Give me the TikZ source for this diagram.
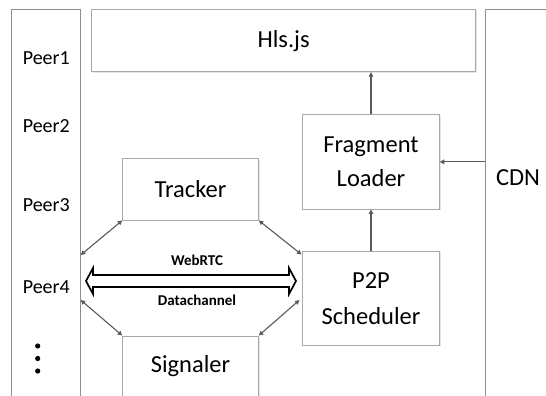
\documentclass[tikz,border=0pt]{standalone}
\usepackage{fontspec}
\setmainfont{Carlito}
\usetikzlibrary{arrows.meta,calc,shadows}
\definecolor{boxgray}{HTML}{A8A8A8}
\definecolor{sidegray}{HTML}{8E8E8E}
\definecolor{arrgray}{HTML}{5A5A5A}
\begin{document}
\begin{tikzpicture}[x=1pt,y=-1pt,
  box/.style={draw=boxgray, line width=0.9pt, fill=white, rectangle, inner sep=0pt,
    general shadow={shadow xshift=1.2pt, shadow yshift=-1.2pt, fill=black!10}},
  side/.style={draw=sidegray, line width=0.9pt, fill=white, rectangle, inner sep=0pt},
  big/.style={font=\fontsize{24.5}{30}\selectfont, anchor=base, inner sep=0pt},
  peerlbl/.style={font=\fontsize{20}{24}\selectfont, anchor=base, inner sep=0pt},
  small/.style={font=\fontsize{15}{18}\selectfont\bfseries, anchor=base, inner sep=0pt},
  arr/.style={draw=arrgray, line width=1.1pt, -{Triangle[length=4.5pt,width=4.5pt]}},
  darr/.style={draw=arrgray, line width=1.1pt, {Triangle[length=4.5pt,width=4.5pt]}-{Triangle[length=4.5pt,width=4.5pt]}},
  fatarr/.style={draw=black, line width=1.7pt, fill=white, line join=miter},
  dot/.style={circle, fill=black, inner sep=0pt, minimum size=5.2pt}
]
\clip (0,0) rectangle (546,396);
\fill[white] (0,0) rectangle (546,396);

% side columns
\node[side, minimum width=69.2pt, minimum height=411pt] (peer) at (46.1,214.5) {};
\node[side, minimum width=85pt, minimum height=411pt] (cdn) at (527.5,214.5) {};

% boxes
\node[box, minimum width=384.1pt, minimum height=62.7pt] (hls) at (283.65,40.35) {};
\node[box, minimum width=136.6pt, minimum height=94.3pt] (fl) at (371,161.85) {};
\node[box, minimum width=136.6pt, minimum height=94pt] (p2p) at (371,298) {};
\node[box, minimum width=135.6pt, minimum height=61.3pt] (tracker) at (190.5,189.35) {};
\node[box, minimum width=135.6pt, minimum height=84pt] (signaler) at (190.5,378) {};

% box texts
\node[big] (thls) at (283.6,47.7) {Hls.js};
\node[big] (tfl1) at (371,152.7) {Fragment};
\node[big] (tfl2) at (371,186.7) {Loader};
\node[big] (tp1) at (371,288) {P2P};
\node[big] (tp2) at (371,324) {Scheduler};
\node[big] (ttr) at (190.5,197.3) {Tracker};
\node[big] (tsg) at (190.5,372.3) {Signaler};
\node[big] (tcdn) at (518,185) {CDN};

% peers
\node[peerlbl] (peer1) at (46.3,64) {Peer1};
\node[peerlbl] (peer2) at (46.3,132) {Peer2};
\node[peerlbl] (peer3) at (46.3,211) {Peer3};
\node[peerlbl] (peer4) at (46.3,293) {Peer4};
\node[dot] (d1) at (37.7,346) {};
\node[dot] (d2) at (37.7,358.5) {};
\node[dot] (d3) at (37.7,371) {};

% vertical / horizontal arrows
\draw[arr] (fl.north) -- (fl.north |- hls.south);
\draw[arr] (p2p.north) -- (fl.south);
\draw[arr] (cdn.west |- fl.east) -- (fl.east);

% diagonal double arrows
\coordinate (pa) at (80.7,255);
\coordinate (pb) at (80.7,300);
\coordinate (qa) at (301.5,254.5);
\coordinate (qb) at (299.5,300);
\draw[darr] (tracker.south west) -- (pa);
\draw[darr] (tracker.south east) -- (qa);
\draw[darr] (signaler.north west) -- (pb);
\draw[darr] (signaler.north east) -- (qb);

% WebRTC datachannel fat double arrow
\coordinate (wl) at (86,281);
\coordinate (wr) at (296,281);
\draw[fatarr] (wl) -- ++(7,-13) -- ++(0,7) -- ($(wr)+(-7,-6)$) -- ++(0,-7) -- (wr)
  -- ++(-7,13) -- ++(0,-7) -- ($(wl)+(7,6)$) -- ++(0,7) -- cycle;
\node[small] (webrtc) at (197,265) {WebRTC};
\node[small] (dc) at (197,305) {Datachannel};
\end{tikzpicture}
\end{document}
